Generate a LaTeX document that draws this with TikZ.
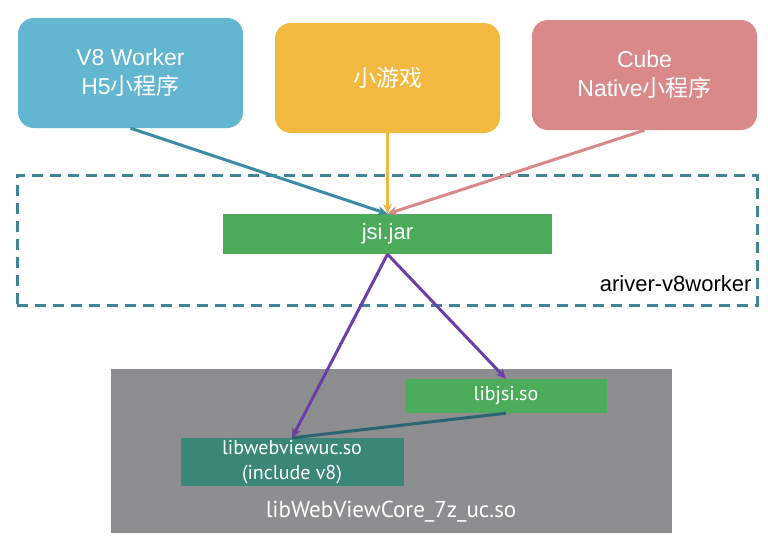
\documentclass[tikz,border=0pt]{standalone}
\usepackage{fontspec}
\setmainfont{Liberation Sans}
\newfontfamily\cjk{Noto Sans CJK SC}
\newfontfamily\libfont{PT Sans}
\usetikzlibrary{arrows.meta}
\definecolor{h5blue}{HTML}{63B6D0}
\definecolor{gameyellow}{HTML}{F2B83F}
\definecolor{cubepink}{HTML}{DA898B}
\definecolor{dashteal}{HTML}{3F8597}
\definecolor{h5line}{HTML}{3A8CA2}
\definecolor{jsigreen}{HTML}{4DAB5C}
\definecolor{webteal}{HTML}{3A8778}
\definecolor{coregray}{HTML}{8E8D8F}
\definecolor{callpurple}{HTML}{6B3FA7}
\definecolor{linkteal}{HTML}{2B6572}
\tikzset{
  appbox/.style={rounded corners=16pt, minimum width=225pt, minimum height=110pt,
    text=white, align=center, font=\fontsize{23}{29}\selectfont},
  libbox/.style={text=white, align=center, inner sep=0pt},
  link/.style={line width=3pt, -{Stealth[length=10pt,width=9pt]}},
}
\begin{document}
\begin{tikzpicture}[x=1pt,y=-1pt]
  \useasboundingbox (0,0) rectangle (768,550);
  % top row: the three kinds of app
  \node[appbox, fill=h5blue] (h5) at (130.5,73) {V8 Worker\\H5{\cjk 小程序}};
  \node[appbox, fill=gameyellow] (game) at (387.5,78) {{\cjk 小游戏}};
  \node[appbox, fill=cubepink] (cube) at (644.5,75) {Cube\\Native{\cjk 小程序}};
  % ariver-v8worker dashed frame
  \node[draw=dashteal, line width=3pt, dash pattern=on 11pt off 7pt,
    minimum width=740pt, minimum height=130pt] (ariver) at (387,240) {};
  \node[anchor=east, font=\fontsize{22}{26}\selectfont] (arlabel) at (755,284) {ariver-v8worker};
  \node[libbox, fill=jsigreen, minimum width=329pt, minimum height=40pt,
    font=\fontsize{22}{26}\selectfont] (jsijar) at (387.5,234) {jsi.jar};
  % grey core library block
  \node[fill=coregray, minimum width=561pt, minimum height=164pt] (core) at (391.5,451) {};
  \node[text=white, font=\libfont\fontsize{23}{27}\selectfont] (corelabel) at (391,512) {libWebViewCore\_7z\_uc.so};
  \node[libbox, fill=jsigreen, minimum width=202pt, minimum height=34pt,
    font=\libfont\fontsize{20}{24}\selectfont] (libjsi) at (506,396) {libjsi.so};
  \node[libbox, fill=webteal, minimum width=223pt, minimum height=48pt,
    font=\libfont\fontsize{20}{25}\selectfont] (libweb) at (292,462) {libwebviewuc.so\\(include v8)};
  % connectors
  \draw[link, h5line] (h5.south) -- (jsijar.north);
  \draw[link, gameyellow] (game.south) -- (jsijar.north);
  \draw[link, cubepink] (cube.south) -- (jsijar.north);
  \draw[linkteal, line width=3pt] (libjsi.south) -- (libweb.north);
  \draw[link, callpurple] (jsijar.south) -- (libjsi.north);
  \draw[link, callpurple] (jsijar.south) -- (libweb.north);
\end{tikzpicture}
\end{document}
